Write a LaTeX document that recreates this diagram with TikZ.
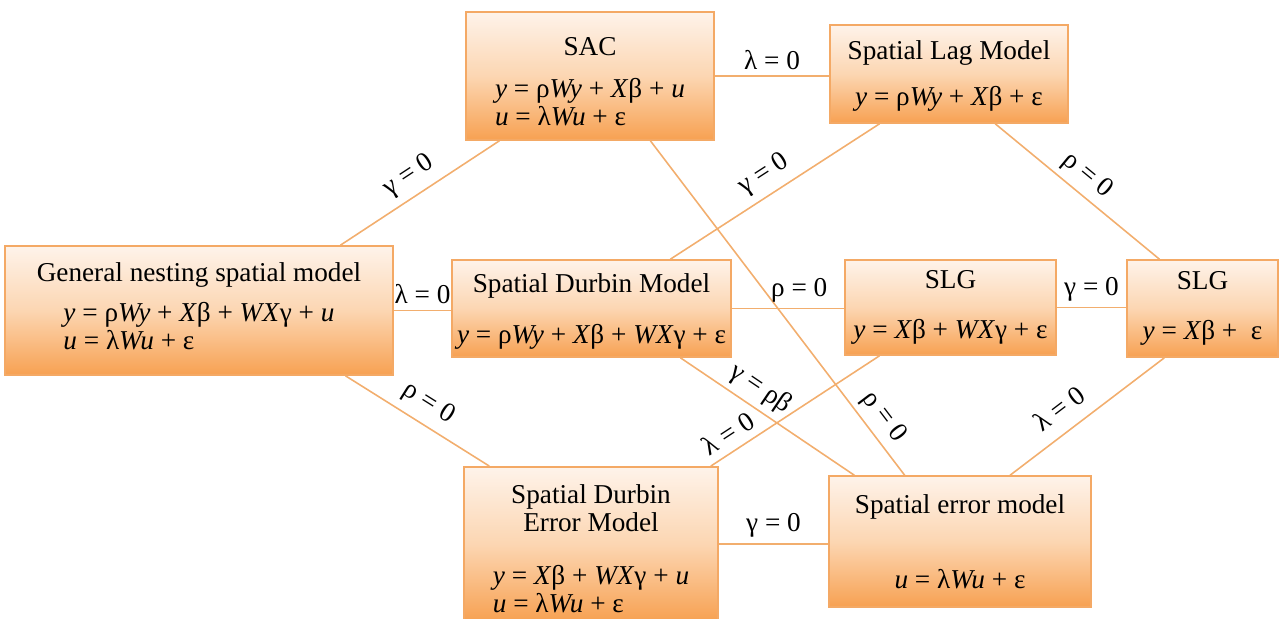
\documentclass[tikz,border=0pt]{standalone}
\usepackage{fontspec}
\setmainfont{Liberation Serif}
\usetikzlibrary{calc}
\definecolor{boxtop}{HTML}{FEF3EA}
\definecolor{boxmid}{HTML}{FCD6B2}
\definecolor{boxbot}{HTML}{F7A152}
\definecolor{boxline}{HTML}{F4A965}
\definecolor{linkc}{HTML}{F2AE6E}
\newcommand{\mv}[1]{\textit{#1}}

\begin{document}
\begin{tikzpicture}[x=0.02cm, y=-0.02cm,
  every node/.style={font=\fontsize{15.5}{16}\selectfont},
  modelbox/.style={rectangle, draw=boxline, line width=0.9pt, top color=boxtop, bottom color=boxbot, middle color=boxmid, align=center, inner sep=0pt},
  link/.style={draw=linkc, line width=0.9pt},
  cond/.style={sloped, above=#1},
  cond/.default=1pt]
  \useasboundingbox (0,0) rectangle (1279,619);

  % models
  \node[modelbox, minimum width=4.96cm, minimum height=2.56cm] (sac) at (590,76)
    {\rule{0pt}{21pt}SAC\\[8pt]\begin{tabular}[t]{@{}l@{}}\mv{y} = ρ\mv{Wy} + \mv{X}β + \mv{u}\\ \mv{u} = λ\mv{Wu} + ε\end{tabular}};
  \node[modelbox, minimum width=4.76cm, minimum height=1.96cm] (slm) at (949,74)
    {\rule{0pt}{13pt}Spatial Lag Model\\[10.5pt]\mv{y} = ρ\mv{Wy} + \mv{X}β + ε};
  \node[modelbox, minimum width=7.76cm, minimum height=2.58cm] (gen) at (199,310.5)
    {General nesting spatial model\\[6.5pt]\begin{tabular}[t]{@{}l@{}}\mv{y} = ρ\mv{Wy} + \mv{X}β + \mv{WX}γ + \mv{u}\\ \mv{u} = λ\mv{Wu} + ε\end{tabular}};
  \node[modelbox, minimum width=5.58cm, minimum height=1.94cm] (sdm) at (591.5,308.5)
    {\rule{0pt}{14pt}Spatial Durbin Model\\[13pt]\mv{y} = ρ\mv{Wy} + \mv{X}β + \mv{WX}γ + ε};
  \node[modelbox, minimum width=4.22cm, minimum height=1.9cm] (slgm) at (950.5,307.5)
    {SLG\\[12pt]\mv{y} = \mv{X}β + \mv{WX}γ + ε};
  \node[modelbox, minimum width=3.02cm, minimum height=1.94cm] (slgr) at (1202.5,308.5)
    {SLG\\[12pt]\mv{y} = \mv{X}β + \ ε};
  \node[modelbox, minimum width=5.08cm, minimum height=2.96cm] (sdem) at (591,544)
    {\rule{0pt}{21pt}Spatial Durbin\\Error Model\\[14pt]\begin{tabular}[t]{@{}l@{}}\mv{y} = \mv{X}β + \mv{WX}γ + \mv{u}\\ \mv{u} = λ\mv{Wu} + ε\end{tabular}};
  \node[modelbox, minimum width=5.24cm, minimum height=2.62cm] (sem) at (960,541.5)
    {Spatial error model\\[26.5pt]\mv{u} = λ\mv{Wu} + ε};

  % restrictions
  \draw[link] (sac.east) -- node[above]{λ = 0} (sac.east -| slm.west);
  \draw[link] ($(gen.north west)!0.863!(gen.north east)$) -- node[cond, pos=0.5]{γ = 0} ($(sac.south west)!0.137!(sac.south east)$);
  \draw[link] (gen.east) -- node[above]{λ = 0} (gen.east -| sdm.west);
  \draw[link] ($(gen.south west)!0.876!(gen.south east)$) -- node[cond, pos=0.5]{ρ = 0} ($(sdem.north west)!0.102!(sdem.north east)$);
  \draw[link] ($(sac.south west)!0.742!(sac.south east)$) -- node[cond=0pt, pos=0.86]{ρ = 0} ($(sem.north west)!0.29!(sem.north east)$);
  \draw[link] ($(sdm.north west)!0.781!(sdm.north east)$) -- node[cond, pos=0.5]{γ = 0} ($(slm.south west)!0.21!(slm.south east)$);
  \draw[link] ($(slm.south west)!0.693!(slm.south east)$) -- node[cond=0pt, pos=0.49]{ρ = 0} ($(slgr.north west)!0.218!(slgr.north east)$);
  \draw[link] (sdm.east) -- node[above, pos=0.6]{ρ = 0} (sdm.east -| slgm.west);
  \draw[link] (slgm.east) -- node[above]{γ = 0} (slgm.east -| slgr.west);
  \draw[link] ($(sdm.south west)!0.817!(sdm.south east)$) -- node[cond=0pt, pos=0.4]{γ = ρβ} ($(sem.north west)!0.099!(sem.north east)$);
  \draw[link] ($(sdem.north west)!0.969!(sdem.north east)$) -- node[cond, pos=0.16]{λ = 0} ($(slgm.south west)!0.166!(slgm.south east)$);
  \draw[link] (sdem.east) -- node[above]{γ = 0} (sdem.east -| sem.west);
  \draw[link] ($(sem.north west)!0.69!(sem.north east)$) -- node[cond=4pt, pos=0.41]{λ = 0} ($(slgr.south west)!0.25!(slgr.south east)$);
\end{tikzpicture}
\end{document}
